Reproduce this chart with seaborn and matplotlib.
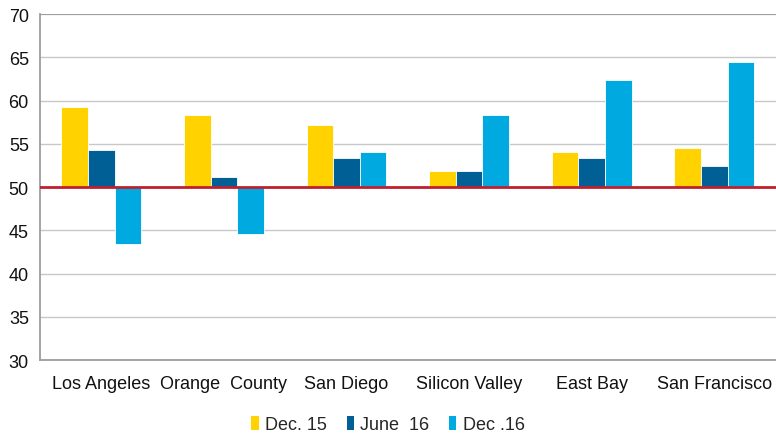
import matplotlib
matplotlib.use("Agg")
import matplotlib.pyplot as plt
import seaborn as sns
import pandas as pd
from matplotlib import font_manager
from matplotlib.patches import Patch

categories = ["Los Angeles", "Orange  County", "San Diego", "Silicon Valley", "East Bay", "San Francisco"]
series_names = ["Dec. 15", "June  16", "Dec .16"]
dec15 = [59.3, 58.3, 57.2, 51.9, 54.0, 54.5]
june16 = [54.3, 51.2, 53.4, 51.9, 53.4, 52.4]
dec16 = [43.4, 44.6, 54.0, 58.3, 62.4, 64.5]
baseline = 50
colors = ["#FFD200", "#006096", "#00AAE1"]

sns.set_theme(style="white")
avail = {f.name for f in font_manager.fontManager.ttflist}
fam = "Liberation Sans Narrow" if "Liberation Sans Narrow" in avail else "Liberation Sans"
plt.rcParams["font.family"] = [fam, "DejaVu Sans"]

rows = []
for name, vals in zip(series_names, [dec15, june16, dec16]):
    for c, v in zip(categories, vals):
        rows.append({"cat": c, "series": name, "delta": v - baseline})
df = pd.DataFrame(rows)

fig = plt.figure(figsize=(7.76, 4.35), dpi=100)
ax = fig.add_axes([0.0515, 0.170, 0.948, 0.7955])

sns.barplot(data=df, x="cat", y="delta", hue="series", order=categories,
            hue_order=series_names, palette=colors, width=0.65, bottom=baseline,
            edgecolor="white", linewidth=0.6, ax=ax, legend=False, errorbar=None,
            saturation=1)

ax.set_ylim(30, 70)
ax.set_yticks(range(30, 71, 5))
ax.set_xlim(-0.5, 5.5)
ax.grid(axis="y", color="#C8C8C8", linewidth=1)
ax.set_axisbelow(True)
ax.axhline(baseline, color="#C0202E", linewidth=2, zorder=5)
for s in ["top", "right"]:
    ax.spines[s].set_visible(False)
ax.spines["left"].set_color("#999999")
ax.spines["bottom"].set_color("#999999")
ax.axhline(70, color="#999999", linewidth=1.2, zorder=1)
ax.set_xlabel("")
ax.set_ylabel("")
ax.tick_params(axis="x", length=0, pad=11, labelsize=13, colors="#111111")
ax.tick_params(axis="y", length=0, pad=8, labelsize=13, colors="#111111")

handles = [Patch(facecolor=c, edgecolor="none") for c in colors]
fig.legend(handles, series_names, loc="center", bbox_to_anchor=(0.5, 0.022),
           ncol=3, frameon=False, fontsize=13, handlelength=0.4, handleheight=0.8,
           handletextpad=0.35, columnspacing=1.1)

fig.savefig("out.png", dpi=100)
